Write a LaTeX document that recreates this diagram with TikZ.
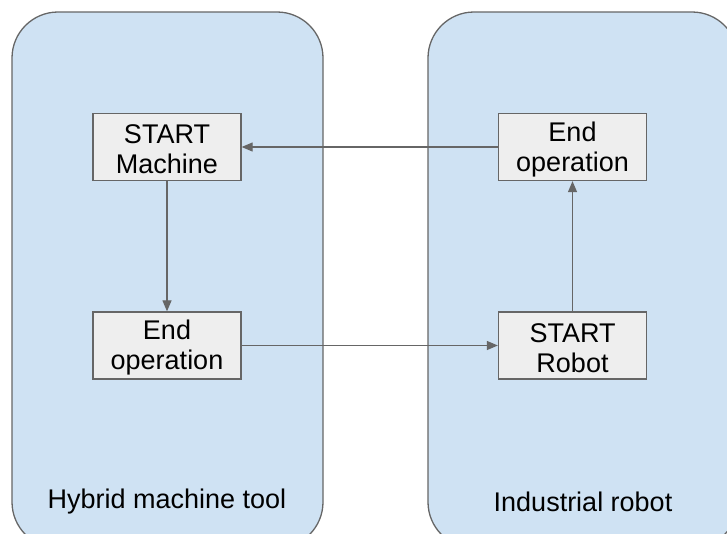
\documentclass[tikz,border=0pt]{standalone}
\usepackage{fontspec}
\setmainfont{Liberation Sans}
\usetikzlibrary{arrows.meta}
\definecolor{contfill}{HTML}{CFE2F3}
\definecolor{boxfill}{HTML}{EEEEEE}
\definecolor{linegray}{HTML}{666666}
\tikzset{
  container/.style={draw=linegray, line width=1.3pt, fill=contfill, rounded corners=46pt},
  stepbox/.style={draw=linegray, line width=1.3pt, fill=boxfill, minimum width=148pt, minimum height=67pt, inner sep=0pt, align=center, font=\fontsize{27}{30}\selectfont},
  lbl/.style={font=\fontsize{27}{30}\selectfont, inner sep=0pt},
  conn/.style={draw=linegray, line width=1.2pt, -{Triangle[length=11pt,width=9pt]}}
}
\begin{document}
\begin{tikzpicture}[x=1pt,y=-1pt]
\useasboundingbox (0,0) rectangle (727,533);
\clip (0,0) rectangle (727,533);
\path[container] (12,12) rectangle (323,548);
\path[container] (428,12) rectangle (738,548);
\node[stepbox] (sm) at (167,147) {\rule{0pt}{24pt}START\\Machine};
\node[stepbox] (eor) at (572.5,147) {\rule{0pt}{24pt}End\\operation};
\node[stepbox] (eol) at (167,345.5) {\rule{0pt}{24pt}End\\operation};
\node[stepbox] (sr) at (572.5,345.5) {\rule{0pt}{24pt}START\\Robot};
\node[lbl] (lh) at (167,502) {Hybrid machine tool};
\node[lbl] (li) at (583,502) {Industrial robot};
\draw[conn] (eor) -- (sm);
\draw[conn] (sm) -- (eol);
\draw[conn] (eol) -- (sr);
\draw[conn] (sr) -- (eor);
\end{tikzpicture}
\end{document}
